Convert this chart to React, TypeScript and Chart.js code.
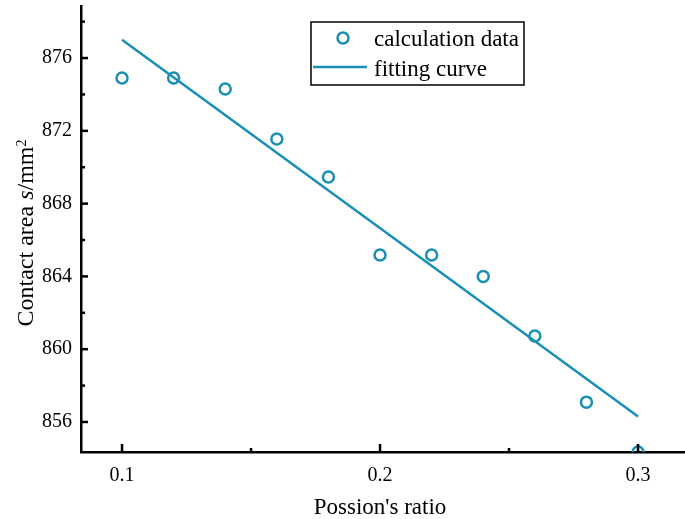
import React, { useEffect, useRef } from "react";
import { Chart, registerables } from "chart.js";

Chart.register(...registerables);

const poissonRatio = [0.1, 0.12, 0.14, 0.16, 0.18, 0.2, 0.22, 0.24, 0.26, 0.28, 0.3];
const contactArea = [874.9, 874.9, 874.3, 871.55, 869.46, 865.18, 865.18, 864.0, 860.73, 857.09, 854.35];
const fitX = [0.1, 0.3];
const fitY = [877.0, 856.3];
const xMajorTicks = [0.1, 0.2, 0.3];
const xMinorTicks = [0.15, 0.25];
const yMajorTicks = [856, 860, 864, 868, 872, 876];
const yMinorTicks = [858, 862, 866, 870, 874, 878];
const xRange = [0.0841, 0.3182];
const yRange = [854.35, 878.86];
const legendLabels = ["calculation data", "fitting curve"];
const xTitle = "Possion's ratio";
const yTitleParts = ["Contact area ", "s", "/mm", "2"];

const COLOR = "#1a8fb5";
const FONT = "'Liberation Serif', 'Times New Roman', serif";

const isIn = (arr: number[], v: number) => arr.some((t) => Math.abs(t - v) < 1e-9);

const noPad = (s: any) => {
  s.paddingLeft = 0;
  s.paddingRight = 0;
  s.paddingTop = 0;
  s.paddingBottom = 0;
};

const decorPlugin = {
  id: "decor",
  afterDraw(chart: any) {
    const ctx: CanvasRenderingContext2D = chart.ctx;
    const area = chart.chartArea;
    const xs = chart.scales.x;
    const ys = chart.scales.y;
    ctx.save();
    // inward ticks
    ctx.strokeStyle = "#000";
    ctx.lineWidth = 2.5;
    ctx.lineCap = "butt";
    const drawXT = (v: number, len: number) => {
      const p = xs.getPixelForValue(v);
      ctx.beginPath();
      ctx.moveTo(p, area.bottom);
      ctx.lineTo(p, area.bottom - len);
      ctx.stroke();
    };
    const drawYT = (v: number, len: number) => {
      const p = ys.getPixelForValue(v);
      ctx.beginPath();
      ctx.moveTo(area.left, p);
      ctx.lineTo(area.left + len, p);
      ctx.stroke();
    };
    xMajorTicks.forEach((v) => drawXT(v, 8));
    xMinorTicks.forEach((v) => drawXT(v, 4));
    yMajorTicks.forEach((v) => drawYT(v, 7));
    yMinorTicks.forEach((v) => drawYT(v, 4));

    // x title
    ctx.fillStyle = "#000";
    ctx.font = `23px ${FONT}`;
    ctx.textAlign = "center";
    ctx.textBaseline = "alphabetic";
    ctx.fillText(xTitle, 380, 514);

    // y title (rotated, mixed styles)
    const normal = `24px ${FONT}`;
    const italic = `italic 24px ${FONT}`;
    const sup = `14px ${FONT}`;
    const fonts = [normal, italic, normal, sup];
    const widths = yTitleParts.map((t, i) => {
      ctx.font = fonts[i];
      return ctx.measureText(t).width;
    });
    const total = widths.reduce((a, b) => a + b, 0);
    ctx.translate(33, 233);
    ctx.rotate(-Math.PI / 2);
    ctx.textAlign = "left";
    let x = -total / 2;
    yTitleParts.forEach((t, i) => {
      ctx.font = fonts[i];
      ctx.fillText(t, x, i === 3 ? -7 : 0);
      x += widths[i];
    });
    ctx.restore();

    // legend
    ctx.save();
    ctx.strokeStyle = "#000";
    ctx.lineWidth = 1.5;
    ctx.strokeRect(311, 22, 213, 63);
    ctx.strokeStyle = COLOR;
    ctx.lineWidth = 2.5;
    ctx.beginPath();
    ctx.arc(343, 38, 5.5, 0, Math.PI * 2);
    ctx.stroke();
    ctx.beginPath();
    ctx.moveTo(313, 67);
    ctx.lineTo(367, 67);
    ctx.stroke();
    ctx.fillStyle = "#000";
    ctx.font = `23px ${FONT}`;
    ctx.textAlign = "left";
    ctx.textBaseline = "alphabetic";
    ctx.fillText(legendLabels[0], 374, 46);
    ctx.fillText(legendLabels[1], 374, 76);
    ctx.restore();
  },
};

export default function App() {
  const ref = useRef<HTMLCanvasElement | null>(null);
  useEffect(() => {
    if (!ref.current) return;
    const chart = new Chart(ref.current, {
      type: "scatter",
      data: {
        datasets: [
          {
            type: "line",
            label: legendLabels[1],
            data: fitX.map((x, i) => ({ x, y: fitY[i] })),
            borderColor: COLOR,
            borderWidth: 2.5,
            pointRadius: 0,
            fill: false,
          } as any,
          {
            type: "scatter",
            label: legendLabels[0],
            data: poissonRatio.map((x, i) => ({ x, y: contactArea[i] })),
            borderColor: COLOR,
            backgroundColor: "rgba(0,0,0,0)",
            borderWidth: 2.5,
            pointRadius: 5.5,
            pointStyle: "circle",
            clip: 0,
          } as any,
        ],
      },
      options: {
        responsive: false,
        animation: false,
        layout: { autoPadding: false, padding: { top: 6, right: 0, left: 0, bottom: 0 } },
        plugins: { legend: { display: false }, tooltip: { enabled: false } },
        scales: {
          x: {
            type: "linear",
            min: xRange[0],
            max: xRange[1],
            grid: { display: false, drawTicks: false },
            border: { display: true, color: "#000", width: 2.5 },
            afterBuildTicks: (s: any) => {
              s.ticks = [...xMajorTicks, ...xMinorTicks].sort((a, b) => a - b).map((v) => ({ value: v }));
            },
            afterFit: (s: any) => {
              s.height = 67;
              noPad(s);
            },
            ticks: {
              padding: 12,
              color: "#000",
              font: { family: FONT, size: 20 },
              maxRotation: 0,
              autoSkip: false,
              callback: (v: any) => (isIn(xMajorTicks, Number(v)) ? Number(v).toFixed(1) : ""),
            },
          },
          y: {
            type: "linear",
            min: yRange[0],
            max: yRange[1],
            grid: { display: false, drawTicks: false },
            border: { display: true, color: "#000", width: 2.5 },
            afterBuildTicks: (s: any) => {
              s.ticks = [...yMajorTicks, ...yMinorTicks].sort((a, b) => a - b).map((v) => ({ value: v }));
            },
            afterFit: (s: any) => {
              s.width = 81;
              noPad(s);
            },
            ticks: {
              padding: 9,
              color: "#000",
              font: { family: FONT, size: 20 },
              autoSkip: false,
              callback: (v: any) => (isIn(yMajorTicks, Number(v)) ? String(v) : ""),
            },
          },
        },
      },
      plugins: [decorPlugin],
    } as any);
    return () => chart.destroy();
  }, []);
  return (
    <div style={{ position: "absolute", left: 0, top: 0, width: 685, height: 519, background: "#fff" }}>
      <canvas ref={ref} width={685} height={519} style={{ display: "block" }} />
    </div>
  );
}
